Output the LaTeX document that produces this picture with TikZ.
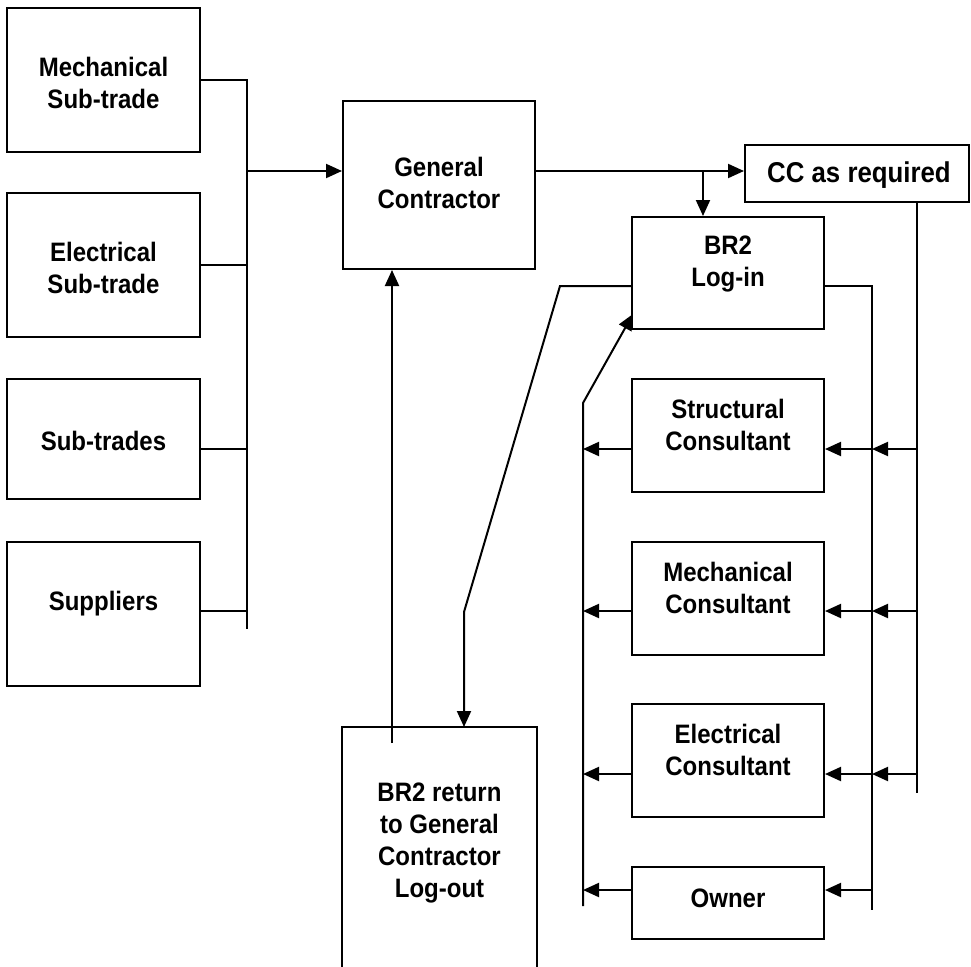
\documentclass[tikz,border=0pt]{standalone}
\usepackage{fontspec}
\setmainfont{Liberation Sans}[FakeStretch=0.9]
\usetikzlibrary{shapes, arrows.meta}
\tikzstyle{line} = [draw, -{Triangle[length=12pt,width=10.5pt]}]
\tikzstyle{box} = [rectangle, draw=black, inner sep=0pt]
\tikzstyle{txt} = [align=center, inner sep=0pt, font=\bfseries\fontsize{20}{24}\selectfont]

\begin{document}
\begin{tikzpicture}[x=0.75pt, y=-0.75pt, line width=1.5pt, line join=miter]
		\def\pxl{0.75pt}
		\useasboundingbox (0,0) rectangle (971,967);
		% trades on the left
		\node[box, minimum width=193*\pxl, minimum height=144*\pxl] (mechsub) at (103.5, 80) {};
		\node[box, minimum width=193*\pxl, minimum height=144*\pxl] (elecsub) at (103.5, 265) {};
		\node[box, minimum width=193*\pxl, minimum height=120*\pxl] (subtr) at (103.5, 439) {};
		\node[box, minimum width=193*\pxl, minimum height=144*\pxl] (suppl) at (103.5, 614) {};
		\node[txt] (mechsub-t) at (103.5, 83) {Mechanical\\Sub-trade};
		\node[txt] (elecsub-t) at (103.5, 268) {Electrical\\Sub-trade};
		\node[txt] (subtr-t) at (103.5, 441) {Sub-trades};
		\node[txt] (suppl-t) at (103.5, 604) {Suppliers};

		\node[box, minimum width=192*\pxl, minimum height=168*\pxl] (gc) at (439, 185) {};
		\node[txt] (gc-t) at (439, 183) {General\\Contractor};
		\node[box, minimum width=224*\pxl, minimum height=57*\pxl] (cc) at (857, 173.5) {};
		\node[txt, font=\bfseries\fontsize{21.5}{24}\selectfont] (cc-t) at (859, 175) {CC as required};
		\node[box, minimum width=192*\pxl, minimum height=112*\pxl] (login) at (728, 273) {};
		\node[txt] (login-t) at (728, 264) {BR2\\Log-in};

		% consultants
		\node[box, minimum width=192*\pxl, minimum height=113*\pxl] (struct) at (728, 435.5) {};
		\node[box, minimum width=192*\pxl, minimum height=113*\pxl] (mechcon) at (728, 598.5) {};
		\node[box, minimum width=192*\pxl, minimum height=113*\pxl] (eleccon) at (728, 760.5) {};
		\node[box, minimum width=192*\pxl, minimum height=72*\pxl] (owner) at (728, 903) {};
		\node[txt] (struct-t) at (728, 424.5) {Structural\\Consultant};
		\node[txt] (mechcon-t) at (728, 587.5) {Mechanical\\Consultant};
		\node[txt] (eleccon-t) at (728, 749.5) {Electrical\\Consultant};
		\node[txt] (owner-t) at (728, 898) {Owner};

		\node[box, draw=none, minimum width=193*\pxl, minimum height=244*\pxl] (ret) at (439.5, 850) {};
		\draw (ret.south west) -- (ret.north west) -- (ret.north east) -- (ret.south east);
		\node[txt] (ret-t) at (439.5, 843) {BR2 return\\to General\\Contractor\\Log-out};

		\coordinate (row1) at (0, 449);
		\coordinate (row2) at (0, 611);
		\coordinate (row3) at (0, 774);
		\coordinate (row4) at (0, 890);
		\coordinate (lbus) at (247, 629);
		\coordinate (mbus) at (872, 910);
		\coordinate (rbus) at (917, 793);
		\coordinate (obus) at (583, 906);
		\coordinate (otop) at (583, 403);
		\coordinate (split) at (703, 171);
		\coordinate (k1) at (560, 286);
		\coordinate (k2) at (464, 612);
		\coordinate (rup) at (392, 743);
		\coordinate (gcin) at ([yshift=10.5pt]gc.west);
		\coordinate (gcout) at ([yshift=10.5pt]gc.east);

		\draw (mechsub.east) -| (lbus);
		\draw (elecsub.east) -- (elecsub.east -| lbus);
		\draw (subtr.east |- row1) -- (lbus |- row1);
		\draw (suppl.east |- row2) -- (lbus |- row2);
		\path [line] (gcin -| lbus) -- (gcin);
		\path [line] (gcout) -- (gcout -| cc.west);
		\path [line] (split) -- (split |- login.north);

		\draw (rbus |- cc.south) -- (rbus);
		\draw ([yshift=-9.75pt]login.east) -| (mbus);
		\foreach \r in {row1, row2, row3}
			\path [line] (rbus |- \r) -- (mbus |- \r);
		\foreach \n/\r in {struct/row1, mechcon/row2, eleccon/row3, owner/row4} {
			\path [line] (mbus |- \r) -- (\n.east |- \r);
			\path [line] (\n.west |- \r) -- (obus |- \r);
		}
		\path [line] (obus) -- (otop) -- ([xshift=1.5pt, yshift=12pt]login.south west);
		%\draw (login.west) -- (ret.north);
		\path [line] ([yshift=-9.75pt]login.west) -- (k1) -- (k2) -- (k2 |- ret.north);
		\path [line] (rup) -- (rup |- gc.south);
	\end{tikzpicture}
\end{document}
